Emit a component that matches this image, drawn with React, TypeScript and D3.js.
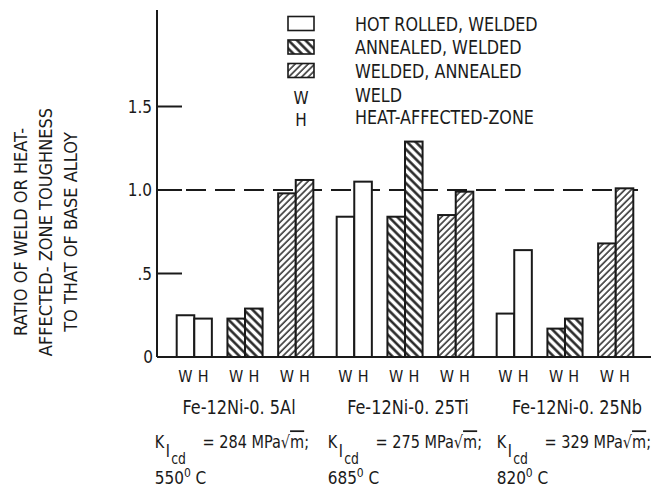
import React from "react";
import * as d3 from "d3";

const alloys = ["Fe-12Ni-0. 5Al", "Fe-12Ni-0. 25Ti", "Fe-12Ni-0. 25Nb"];
const conditions = ["HOT ROLLED, WELDED", "ANNEALED, WELDED", "WELDED, ANNEALED"];
const zones = ["W", "H"];
const zoneNames = ["WELD", "HEAT-AFFECTED-ZONE"];
// weld (W) and heat-affected-zone (H) ratios, per alloy, per condition
const weldRatios = [
  [0.25, 0.23, 0.98],
  [0.84, 0.84, 0.85],
  [0.26, 0.17, 0.68],
];
const hazRatios = [
  [0.23, 0.29, 1.06],
  [1.05, 1.29, 0.99],
  [0.64, 0.23, 1.01],
];
const kValues = ["284", "275", "329"];
const temps = ["550", "685", "820"];
const yTicks = [0.5, 1.0, 1.5];
const yTickLabels = [".5", "1.0", "1.5"];
const yTitle = ["RATIO OF WELD OR HEAT-", "AFFECTED- ZONE TOUGHNESS", "TO THAT OF BASE ALLOY"];

const W = 658;
const H = 488;
const FONT = "'DejaVu Sans Condensed', 'Liberation Sans Narrow', sans-serif";
const axisX = 157;
const baseY = 357;
const footShift = [-22, -9, 0];
const labelShift = [-6, 3, 12];

export default function App() {
  const y = d3.scaleLinear().domain([0, 1]).range([baseY, 190]);
  const x0 = d3.scaleBand<string>().domain(alloys).range([176.7, 633.3]).paddingInner(0.146).paddingOuter(0);
  const x1 = d3.scaleBand<string>().domain(conditions).range([0, x0.bandwidth()]).paddingInner(0.307).paddingOuter(0);
  const x2 = d3.scaleBand<string>().domain(zones).range([0, x1.bandwidth()]).padding(0);
  const fills = ["#fff", "url(#hatchA)", "url(#hatchB)"];
  const ink = "#1a1a1a";

  const bars: React.ReactNode[] = [];
  const whLabels: React.ReactNode[] = [];
  alloys.forEach((a, ai) => {
    conditions.forEach((c, ci) => {
      const vals = [weldRatios[ai][ci], hazRatios[ai][ci]];
      zones.forEach((z, zi) => {
        const bx = (x0(a) as number) + (x1(c) as number) + (x2(z) as number);
        const v = vals[zi];
        bars.push(
          <rect key={`b${ai}${ci}${zi}`} x={bx} y={y(v)} width={x2.bandwidth()} height={baseY - y(v)}
            fill={fills[ci]} stroke={ink} strokeWidth={2} />
        );
        whLabels.push(
          <text key={`l${ai}${ci}${zi}`} x={bx + x2.bandwidth() / 2} y={382} textAnchor="middle" fontSize={16}>{z}</text>
        );
      });
    });
  });

  return (
    <svg width={W} height={H} style={{ position: "absolute", left: 0, top: 0, background: "#fff" }}
      fontFamily={FONT} fill={ink}>
      <defs>
        <pattern id="hatchA" width={6} height={6} patternUnits="userSpaceOnUse" patternTransform="rotate(-45)">
          <rect width={6} height={6} fill="#fff" />
          <line x1={1.5} y1={0} x2={1.5} y2={6} stroke={ink} strokeWidth={2.4} />
        </pattern>
        <pattern id="hatchB" width={4.6} height={4.6} patternUnits="userSpaceOnUse" patternTransform="rotate(45)">
          <rect width={4.6} height={4.6} fill="#fff" />
          <line x1={1} y1={0} x2={1} y2={4.6} stroke={ink} strokeWidth={1.4} />
        </pattern>
      </defs>
      <rect width={W} height={H} fill="#fff" />

      {/* y-axis title */}
      {yTitle.map((t, i) => (
        <text key={t} transform={`translate(${27 + i * 25},232) rotate(-90)`} textAnchor="middle" fontSize={18}>{t}</text>
      ))}

      {/* reference line at 1.0 */}
      <line x1={axisX} x2={638} y1={y(1)} y2={y(1)} stroke={ink} strokeWidth={2} strokeDasharray="20 9" />

      {bars}

      {/* axes */}
      <line x1={axisX} x2={axisX} y1={10} y2={baseY} stroke={ink} strokeWidth={2} />
      <line x1={axisX} x2={651} y1={baseY} y2={baseY} stroke={ink} strokeWidth={2} />
      {yTicks.map((t, i) => (
        <g key={t}>
          <line x1={axisX} x2={182} y1={y(t)} y2={y(t)} stroke={ink} strokeWidth={2} />
          <text x={152} y={y(t) + 6} textAnchor="end" fontSize={17}>{yTickLabels[i]}</text>
        </g>
      ))}
      <text x={153} y={baseY + 6} textAnchor="end" fontSize={17}>0</text>

      {whLabels}

      {/* legend */}
      {conditions.map((c, i) => (
        <g key={c}>
          <rect x={288} y={16.5 + i * 23.5} width={26} height={14} fill={fills[i]} stroke={ink} strokeWidth={1.6} />
          <text transform={`translate(355,${30.5 + i * 23.5}) scale(0.91,1)`} fontSize={19.5}>{c}</text>
        </g>
      ))}
      {zones.map((z, i) => (
        <g key={z}>
          <text x={301} y={104 + i * 22} textAnchor="middle" fontSize={17}>{z}</text>
          <text transform={`translate(355,${101.5 + i * 22.5}) scale(0.91,1)`} fontSize={19.5}>{zoneNames[i]}</text>
        </g>
      ))}

      {/* alloy footers */}
      {alloys.map((a, i) => {
        const cx = (x0(a) as number) + x0.bandwidth() / 2;
        const fx = (x0(a) as number) + footShift[i];
        return (
          <g key={a}>
            <text transform={`translate(${cx + labelShift[i]},414) scale(0.92,1)`} textAnchor="middle" fontSize={19.5}>{a}</text>
            <g transform={`translate(${fx},448) scale(0.92,1)`}>
              <text x={0} y={0} fontSize={17.5}>
                <tspan x={0}>K</tspan>
                <tspan x={12} dy={9} fontSize={17}>I</tspan>
                <tspan x={18} dy={7} fontSize={15}>cd</tspan>
                <tspan x={52} dy={-16}>= {kValues[i]} MPa</tspan>
                <tspan>√</tspan>
                <tspan style={{ textDecoration: "overline" }}>m</tspan>
                <tspan>;</tspan>
              </text>
            </g>
            <text x={fx} y={484} fontSize={17}>
              {temps[i]}
              <tspan dy={-7} fontSize={12}>0</tspan>
              <tspan dy={7}> C</tspan>
            </text>
          </g>
        );
      })}
    </svg>
  );
}
